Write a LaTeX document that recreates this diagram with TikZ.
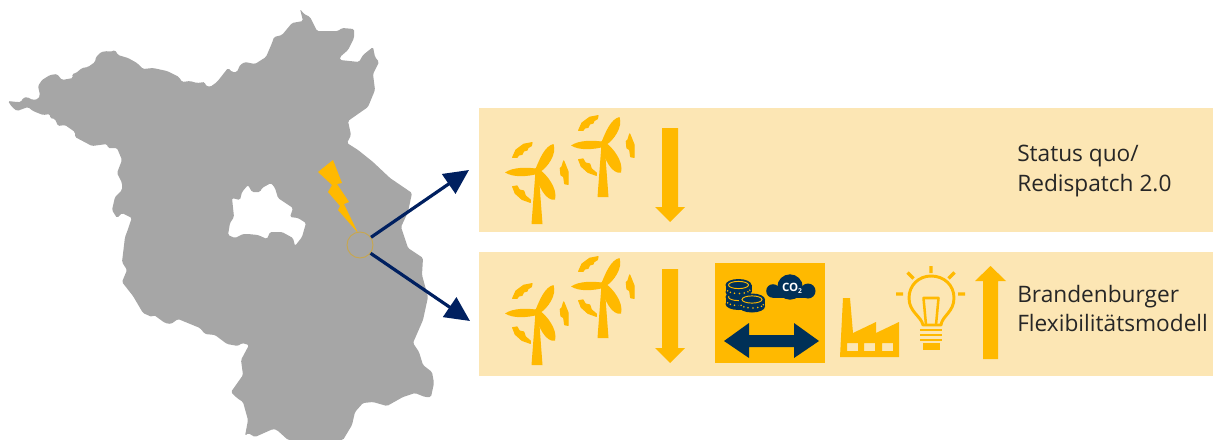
\documentclass[tikz,border=0pt]{standalone}
\usepackage{fontspec}
\setmainfont{Open Sans}
\usetikzlibrary{arrows.meta}
\definecolor{mapgrey}{HTML}{A6A6A6}
\definecolor{gold}{HTML}{FFB900}
\definecolor{cream}{HTML}{FCE6B4}
\definecolor{navyA}{HTML}{002060}
\definecolor{navyB}{HTML}{003057}
\definecolor{ringcol}{HTML}{C8A64E}
\tikzset{
  panel/.style={fill=cream,draw=none,minimum width=550.5pt,minimum height=93pt,inner sep=0pt,anchor=north west},
  lbl/.style={anchor=west,align=left,text=black!85,font=\fontsize{17}{22}\selectfont,inner sep=0pt},
  flow/.style={navyA,line width=2.4pt,-{Triangle[length=18.5pt,width=17.5pt]}},
  goldfill/.style={fill=gold,draw=gold,line width=0.9pt,line join=round},
  turbine/.pic={
    \fill[gold] (-1.5,0) -- (1.5,0) -- (5.5,53) -- (-5.5,53) -- cycle;
    \fill[gold] (0,0) circle (3.2);
    \fill[gold] (2,-2) .. controls (-10,-4) and (-24,-4) .. (-32,1.5) .. controls (-24,6.5) and (-10,6) .. (2,2.5) -- cycle;
    \fill[gold] (-1.5,-2) .. controls (3,-13) and (8,-25) .. (16.5,-27) .. controls (20,-17) and (11,-4) .. (3,1) -- cycle;
    \fill[gold] (1,-2.5) .. controls (10,3) and (21,18) .. (18,28.5) .. controls (9,31) and (1,14) .. (-2,3) -- cycle;
    \filldraw[goldfill] (-24.3,-13.7) -- (-21,-21) -- (-13.3,-26.7) -- (-5,-28.3) -- (-5.7,-25.3) -- (-9,-23.3) -- (-10,-21) -- (-13.3,-20) -- (-15,-16.7) -- (-18.3,-16) -- (-20,-13.7) -- cycle;
    \filldraw[goldfill] (26.7,-10) -- (31,0.7) -- (31,13.3) -- (27.7,12.7) -- (26.7,5.7) -- (24,4) -- (23.3,-2.7) -- (25,-4.3) -- cycle;
    \filldraw[goldfill] (-24.3,15.7) -- (-20,15) -- (-17.7,19) -- (-13.3,20) -- (-11.7,24.7) -- (-6.7,29) -- (-6.7,31.3) -- (-15,28.3) -- (-21.7,22.3) -- cycle;
  },
  coinstack/.pic={
    \fill[navyB] (0,0) ellipse[x radius=13,y radius=6];
    \fill[navyB] (-13,0) rectangle (13,7);
    \fill[navyB] (0,7) ellipse[x radius=13,y radius=6];
    \draw[gold,line width=0.7pt] (0,0) ellipse[x radius=10,y radius=3.6];
    \foreach \a in {200,225,250,275,300,325,350}
      \fill[gold] ({11.5*cos(\a)},{4.5-4*sin(\a)}) circle (0.85);
  }
}
\begin{document}
\begin{tikzpicture}[x=0.75pt,y=-0.75pt]
\useasboundingbox (0,0) rectangle (1213,439);
\begin{scope}
\clip (0,0) rectangle (1213,439);
% map of Brandenburg with Berlin cut out
\fill[mapgrey,even odd rule,rounded corners=1.1pt]
 (8,101) -- (17,102) -- (21,102) -- (23,98) -- (27,97) -- (33,100) -- (38,99) -- (40,95) -- (38,86) -- (42,80) -- (50,75) -- (57,74) -- (62,80) -- (73,78) -- (72,74) -- (76,73) -- (82,68) -- (88,67) -- (95,62) -- (96,57) -- (101,52) -- (108,51) -- (110,52) -- (115,50) -- (118,55) -- (128,58) -- (137,63) -- (143,69) -- (153,68) -- (167,71) -- (179,77) -- (182,82) -- (190,81) -- (197,83) -- (205,82) -- (205,85) -- (210,87) -- (217,82) -- (228,68) -- (232,72) -- (237,72) -- (240,65) -- (245,62) -- (255,64) -- (266,57) -- (272,43) -- (274,37) -- (282,35) -- (292,23) -- (303,21) -- (300,9) -- (304,14) -- (310,17) -- (317,31) -- (338,31) -- (342,28) -- (354,29) -- (354,38) -- (348,50) -- (340,57) -- (340,60) -- (359,62) -- (363,55) -- (373,47) -- (375,57) -- (379,62) -- (373,74) -- (375,90) -- (368,107) -- (348,121) -- (351,135) -- (347,143) -- (358,150) -- (373,162) -- (390,178) -- (412,193) -- (408,212) -- (401,227) -- (408,248) -- (423,258) -- (422,275) -- (428,297) -- (423,320) -- (413,343) -- (419,352) -- (423,365) -- (432,372) -- (434,383) -- (431,397) -- (425,397) -- (415,393) -- (403,397) -- (387,406) -- (373,402) -- (363,403) -- (355,412) -- (352,425) -- (343,440) -- (288,440) -- (277,430) -- (273,429) -- (255,437) -- (248,433) -- (245,436) -- (248,420) -- (243,402) -- (237,398) -- (231,392) -- (243,375) -- (241,360) -- (249,345) -- (242,343) -- (238,346) -- (227,344) -- (215,335) -- (205,334) -- (200,328) -- (178,319) -- (171,324) -- (165,323) -- (154,315) -- (152,317) -- (143,313) -- (133,296) -- (122,282) -- (127,270) -- (122,262) -- (125,237) -- (127,232) -- (131,220) -- (132,218) -- (122,213) -- (117,218) -- (112,210) -- (115,197) -- (122,190) -- (122,183) -- (117,173) -- (122,160) -- (117,148) -- (108,148) -- (107,144) -- (92,146) -- (75,137) -- (75,132) -- (65,125) -- (58,126) -- (55,119) -- (50,118) -- (50,114) -- (43,115) -- (33,111) -- (28,107) -- (17,111) -- (12,107) -- cycle
 (232,198) -- (240,200) -- (242,192) -- (248,185) -- (252,192) -- (260,192) -- (262,188) -- (271,183) -- (275,188) -- (278,198) -- (293,208) -- (290,217) -- (298,218) -- (306,223) -- (302,237) -- (295,246) -- (293,238) -- (282,232) -- (270,232) -- (267,239) -- (258,235) -- (248,234) -- (243,234) -- (235,238) -- (228,235) -- (230,223) -- (234,217) -- cycle;
\end{scope}
% lightning
\fill[gold] (333,160) -- (342,183) -- (337,184) -- (349,202) -- (344,204) -- (358,233) -- (338,210) -- (340,206) -- (328,192) -- (332,185) -- (318,172) -- cycle;
% panels
\node[panel] (panelA) at (479,108) {};
\node[panel] (panelB) at (479,252) {};
% ring and connectors
\node[circle,draw=ringcol,line width=0.7pt,minimum size=19.5pt,inner sep=0pt] (ring) at (360,245) {};
\coordinate (tipA) at (469,170);
\coordinate (tipB) at (470,321);
\draw[flow] (ring.35) -- (tipA);
\draw[flow] (ring.-38) -- (tipB);
% top row
\pic at (537,171) {turbine};
\pic at (603,144) {turbine};
\fill[gold] (662,128) -- (678,128) -- (678,207) -- (685,207) -- (670,222) -- (655,207) -- (662,207) -- cycle;
% bottom row
\pic at (537,312) {turbine};
\pic at (603,285) {turbine};
\fill[gold] (662,269) -- (678,269) -- (678,348) -- (685,348) -- (670,363) -- (655,348) -- (662,348) -- cycle;
% market square
\fill[gold] (715,263) rectangle (825,363);
\pic at (738.5,297) {coinstack};
\pic at (738.5,285) {coinstack};
\pic at (752,299.5) {coinstack};
\fill[navyB] (773,291) circle (6.8);
\fill[navyB] (790,287) circle (12.7);
\fill[navyB] (808,291) circle (7.5);
\fill[navyB] (773,291) rectangle (808,298);
\node[text=white,font=\fontsize{8.6}{9}\selectfont\bfseries,inner sep=0pt] (co2) at (792,288.5) {CO\raisebox{-0.25ex}{\fontsize{5}{5}\selectfont 2}};
\fill[navyB] (724,341) -- (749,323) -- (749,335) -- (794,335) -- (794,323) -- (819,341) -- (794,358) -- (794,347) -- (749,347) -- (749,358) -- cycle;
% factory
\fill[gold,even odd rule] (843,298) -- (850,298) -- (853,333) -- (876,322) -- (876,333) -- (899,322) -- (899,357) -- (840,357) -- cycle
  (847,343) rectangle (858,351) (864,343) rectangle (875,351) (882,343) rectangle (893,351);
% bulb
\draw[gold,line width=2.2pt,line join=round] (923,325) .. controls (921,316) and (909,312) .. (909,298) .. controls (909,285) and (919,276) .. (931,276) .. controls (944,276) and (954,285) .. (954,298) .. controls (954,312) and (942,316) .. (941,325) -- cycle;
\draw[gold,line width=1.9pt,line join=round] (926,325) -- (923.5,298) -- (938.5,298) -- (936,325);
\draw[gold,line width=2.2pt] (920,330) -- (942,330) (920,335) -- (942,335) (920,340) -- (942,340);
\fill[gold] (923,343) rectangle (940,350);
\draw[gold,line width=2.6pt] (931,266) -- (931,273) (907.5,272.5) -- (913.5,278.5) (954.5,272.5) -- (948.5,278.5) (896,294) -- (903,294) (958,294) -- (965,294);
% up arrow
\fill[gold] (983,359) -- (998,359) -- (998,281) -- (1006,281) -- (990.5,266) -- (975,281) -- (983,281) -- cycle;
% labels
\node[lbl] (txtA) at (1017,171) {Status quo/\\Redispatch 2.0};
\node[lbl] (txtB) at (1017,308.5) {Brandenburger\\Flexibilitätsmodell};
\end{tikzpicture}
\end{document}
